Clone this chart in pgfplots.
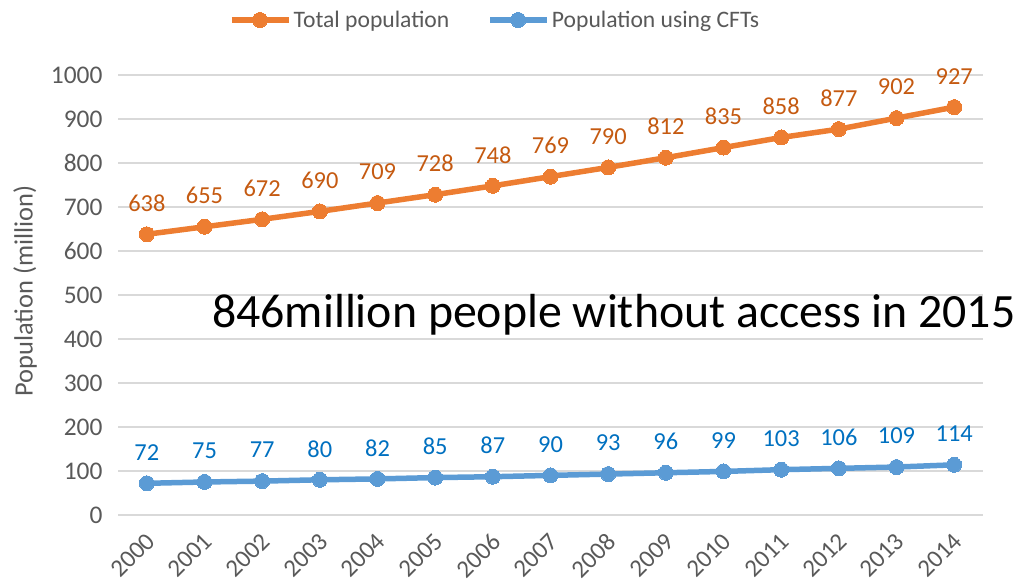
\documentclass[border=0pt]{standalone}
\usepackage{fontspec}
\setmainfont{Carlito}
\usepackage{pgfplots}
\pgfplotsset{compat=1.18}
\definecolor{orng}{HTML}{ED7D31}
\definecolor{blu}{HTML}{5B9BD5}
\definecolor{orngtxt}{HTML}{C55A11}
\definecolor{blutxt}{HTML}{0070C0}
\definecolor{gtxt}{HTML}{595959}
\definecolor{gridc}{HTML}{D9D9D9}
\begin{document}
\begin{tikzpicture}[x=1bp,y=1bp]
\useasboundingbox (0,0) rectangle (1017,582);
\begin{axis}[
  at={(118bp,67bp)}, anchor=south west,
  scale only axis, width=865bp, height=440bp,
  xmin=1999.5, xmax=2014.5, ymin=0, ymax=1000,
  xtick={2000,...,2014}, ytick={0,100,...,1000},
  /pgf/number format/assume math mode=true,
  /pgf/number format/1000 sep={},
  major tick length=0pt,
  axis line style={draw=none},
  ymajorgrids, xmajorgrids=false,
  y grid style={draw=gridc, line width=1.5bp},
  clip=false,
  tick label style={font=\fontsize{25.5}{30}\selectfont, text=gtxt},
  yticklabel style={xshift=-12bp},
  xticklabel style={font=\fontsize{25}{30}\selectfont, xshift=6bp, yshift=-20bp, rotate=45, anchor=east},
  ylabel={Population (million)},
  ylabel style={font=\fontsize{26.5}{30}\selectfont, text=gtxt, at={(axis description cs:-0.1075,0.509)}, anchor=center},
  legend columns=2,
  legend style={draw=none, at={(rel axis cs:0.436,1.125)}, anchor=center,
    font=\fontsize{23.7}{28}\selectfont, text=gtxt,
    /tikz/every even column/.append style={column sep=36bp},
    nodes={inner xsep=2bp}},
  legend image code/.code={
    \draw[#1, mark repeat=2, mark phase=2] plot coordinates {(0bp,0bp) (28bp,0bp) (57bp,0bp)};},
  nodes near coords,
  every node near coord/.append style={anchor=center, yshift=31bp, font=\fontsize{24.5}{28}\selectfont},
]
\addplot[orng, line width=5.5bp, mark=*, mark size=7.5bp, mark options={fill=orng, draw=orng, line width=0pt},
  every node near coord/.append style={text=orngtxt}] coordinates {
(2000,638) (2001,655) (2002,672) (2003,690) (2004,709) (2005,728) (2006,748) (2007,769)
(2008,790) (2009,812) (2010,835) (2011,858) (2012,877) (2013,902) (2014,927)};
\addlegendentry{Total population}
\addplot[blu, line width=5.5bp, mark=*, mark size=7.5bp, mark options={fill=blu, draw=blu, line width=0pt},
  every node near coord/.append style={text=blutxt}] coordinates {
(2000,72) (2001,75) (2002,77) (2003,80) (2004,82) (2005,85) (2006,87) (2007,90)
(2008,93) (2009,96) (2010,99) (2011,103) (2012,106) (2013,109) (2014,114)};
\addlegendentry{Population using CFTs}
\node[font=\fontsize{48}{56}\selectfont, text=black, anchor=center, inner sep=0pt] at (axis cs:2008.1,454) {846million people without access in 2015};
\end{axis}
\end{tikzpicture}
\end{document}
